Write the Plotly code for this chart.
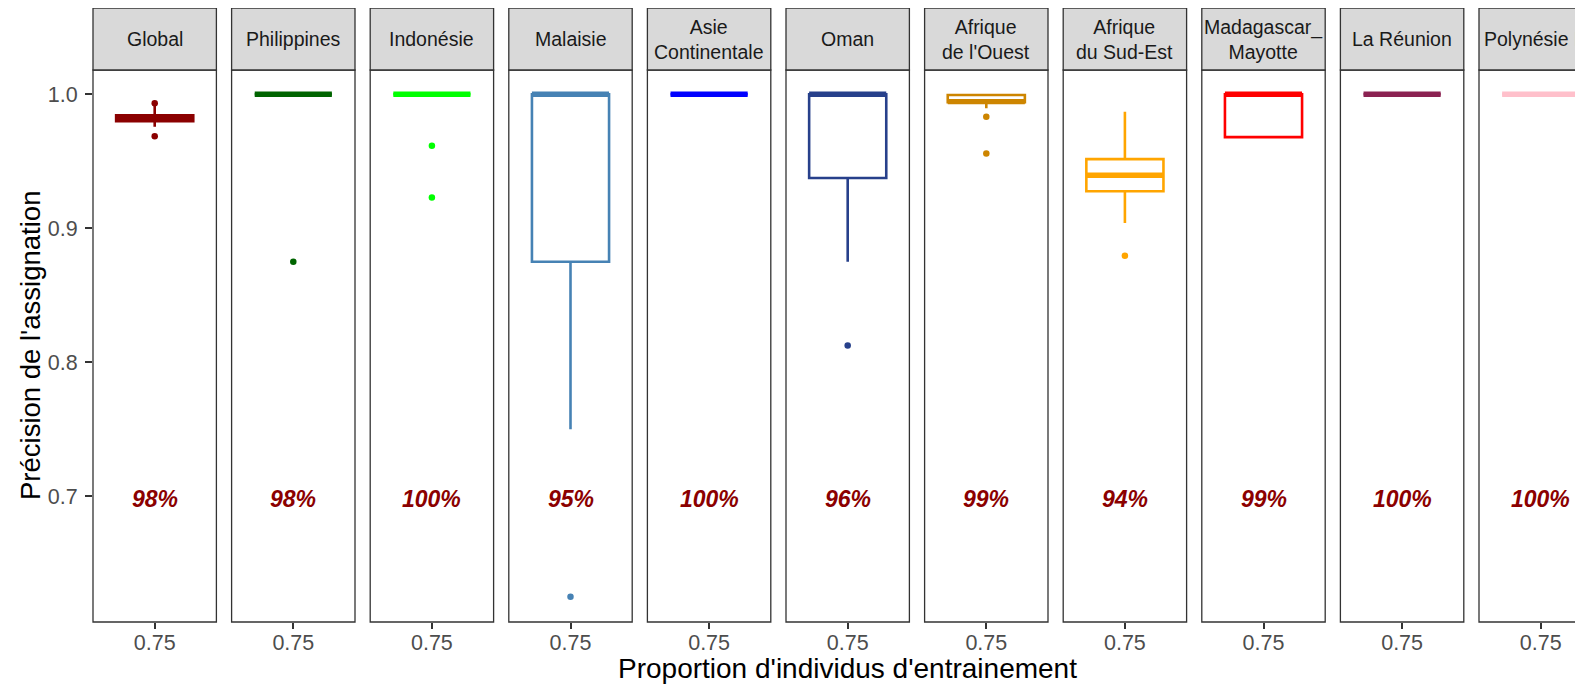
import plotly.graph_objects as go

# ---------------- data ----------------
regions = ["Global", "Philippines", "Indonésie", "Malaisie", "Asie<br>Continentale", "Oman",
           "Afrique<br>de l'Ouest", "Afrique<br>du Sud-Est", "Madagascar_<br>Mayotte",
           "La Réunion", "Polynésie Fr."]
colors = ["#8B0000", "#006400", "#00FF00", "#4682B4", "#0000FF", "#27408B",
          "#CD8500", "#FFA500", "#FF0000", "#8B2252", "#FFC0CB"]
q1 = [0.9799, 1.0, 1.0, 0.875, 1.0, 0.9375, 0.9940, 0.9276, 0.968, 1.0, 1.0]
median = [0.9821, 1.0, 1.0, 1.0, 1.0, 1.0, 0.9945, 0.9396, 1.0, 1.0, 1.0]
q3 = [0.9843, 1.0, 1.0, 1.0, 1.0, 1.0, 0.9995, 0.9516, 1.0, 1.0, 1.0]
lower = [0.9758, 1.0, 1.0, 0.75, 1.0, 0.875, 0.9896, 0.9040, 0.968, 1.0, 1.0]
upper = [0.9930, 1.0, 1.0, 1.0, 1.0, 1.0, 0.9995, 0.9870, 1.0, 1.0, 1.0]
outliers = [[0.9933, 0.9687], [0.875], [0.9615, 0.923], [0.625], [], [0.8125],
            [0.9833, 0.9557], [0.8795], [], [], []]
pct_labels = ["98%", "98%", "100%", "95%", "100%", "96%", "99%", "94%", "99%", "100%", "100%"]
x_tick_label = "0.75"
label_y = 0.7
y_ticks = [0.7, 0.8, 0.9, 1.0]

# ---------------- layout geometry (window pixels) ----------------
WIN_W, WIN_H = 1583, 687
BODY = 8                      # default page body margin
W, H = WIN_W - BODY, WIN_H - BODY
PL, PT, PB = 93, 70, 622      # plot area in window pixels
PW = WIN_W - PL
PH = PB - PT
PANEL_W = 123.4
STEP = 138.6
STRIP_TOP = 8
X0, X1 = 0.4, 1.6
BOX_W = 0.75
FONT = "Liberation Sans, Arial, sans-serif"


def pxx(px):
    return (px - PL) / PW


def pxy(py):
    return (PB - py) / PH


fig = go.Figure()
shapes = []
annotations = []
layout_axes = {}

for i, name in enumerate(regions):
    n = i + 1
    xa = "x" if n == 1 else f"x{n}"
    left = PL + i * STEP
    right = left + PANEL_W
    d1 = min(pxx(right), 1.0)
    if right > WIN_W:
        rng = [X0, X0 + (X1 - X0) * (WIN_W - left) / PANEL_W]
    else:
        rng = [X0, X1]
    layout_axes[f"xaxis{'' if n == 1 else n}"] = dict(
        domain=[pxx(left), d1], range=rng, anchor="y",
        tickvals=[1], ticktext=[x_tick_label], ticks="outside", ticklen=6,
        tickwidth=1.6, tickcolor="#333333", ticklabelstandoff=-5,
        tickfont=dict(size=21.5, color="#4D4D4D", family=FONT),
        showgrid=False, zeroline=False, showline=False, fixedrange=True,
    )
    c = colors[i]
    fig.add_trace(go.Box(
        x=[1], q1=[q1[i]], median=[median[i]], q3=[q3[i]],
        lowerfence=[lower[i]], upperfence=[upper[i]],
        width=BOX_W, whiskerwidth=0, boxpoints=False,
        line=dict(color=c, width=2.6), fillcolor="white",
        xaxis=xa, yaxis="y", showlegend=False, hoverinfo="skip",
    ))
    # fat median line (ggplot style)
    fig.add_trace(go.Scatter(
        x=[1 - BOX_W / 2, 1 + BOX_W / 2], y=[median[i], median[i]], mode="lines",
        line=dict(color=c, width=5.4), xaxis=xa, yaxis="y", showlegend=False,
        hoverinfo="skip",
    ))
    if outliers[i]:
        fig.add_trace(go.Scatter(
            x=[1] * len(outliers[i]), y=outliers[i], mode="markers",
            marker=dict(color=c, size=6.5, line=dict(width=0)),
            xaxis=xa, yaxis="y", showlegend=False, hoverinfo="skip",
        ))
    annotations.append(dict(
        x=1, y=label_y, xref=xa, yref="y", text=f"<b><i>{pct_labels[i]}</i></b>",
        showarrow=False, xanchor="center", yanchor="middle", yshift=-3,
        font=dict(size=23, color="#8B0000", family=FONT),
    ))
    # panel border
    shapes.append(dict(type="rect", xref="paper", yref="paper",
                       x0=pxx(left), x1=pxx(right), y0=0, y1=1,
                       line=dict(color="#333333", width=1.3), fillcolor="rgba(0,0,0,0)",
                       layer="above"))
    # strip
    shapes.append(dict(type="rect", xref="paper", yref="paper",
                       x0=pxx(left), x1=pxx(right), y0=1, y1=pxy(STRIP_TOP),
                       line=dict(color="#333333", width=1.3), fillcolor="#D9D9D9",
                       layer="above"))
    annotations.append(dict(
        x=pxx(left + PANEL_W / 2), y=pxy((STRIP_TOP + PT) / 2), xref="paper", yref="paper",
        text=name, showarrow=False, xanchor="center", yanchor="middle",
        font=dict(size=19.5, color="#1A1A1A", family=FONT),
    ))

# axis titles
full_right = PL + (len(regions) - 1) * STEP + PANEL_W
annotations.append(dict(
    x=pxx((PL + full_right) / 2), y=pxy(668), xref="paper", yref="paper",
    text="Proportion d'individus d'entrainement", showarrow=False,
    xanchor="center", yanchor="middle", font=dict(size=28, color="#000000", family=FONT),
))
annotations.append(dict(
    x=pxx(30), y=0.5, xref="paper", yref="paper", textangle=-90,
    text="Précision de l'assignation", showarrow=False,
    xanchor="center", yanchor="middle", font=dict(size=27.5, color="#000000", family=FONT),
))

fig.update_layout(
    width=W, height=H,
    margin=dict(l=PL - BODY, r=0, t=PT - BODY, b=WIN_H - PB, pad=0),
    plot_bgcolor="white", paper_bgcolor="white",
    shapes=shapes, annotations=annotations, showlegend=False,
    yaxis=dict(range=[0.6062, 1.0181], domain=[0, 1], anchor="x",
               tickvals=y_ticks, ticktext=[f"{v:.1f}" for v in y_ticks],
               ticks="outside", ticklen=7, tickwidth=1.6, tickcolor="#333333",
               ticklabelstandoff=3,
               tickfont=dict(size=21.5, color="#4D4D4D", family=FONT),
               showgrid=False, zeroline=False, showline=False, fixedrange=True),
    **layout_axes,
)

fig.write_html("out.html")
